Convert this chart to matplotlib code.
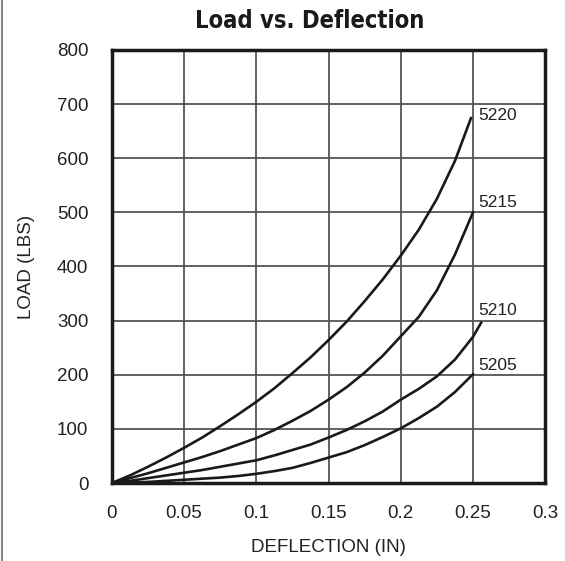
import matplotlib
matplotlib.use("Agg")
import matplotlib.pyplot as plt
from matplotlib import font_manager
from matplotlib.lines import Line2D

# Deflection (in) / load (lbs) points
defl = [0, 0.0125, 0.025, 0.0375, 0.05, 0.0625, 0.075, 0.0875, 0.1, 0.1125, 0.125,
        0.1375, 0.15, 0.1625, 0.175, 0.1875, 0.2, 0.2125, 0.225, 0.2375, 0.25]

load_5220 = [0, 14, 30, 47, 65, 84, 105, 127, 150, 175, 203,
             232, 264, 298, 336, 376, 420, 468, 525, 595, 670]
load_5215 = [0, 9, 18, 28, 38, 48, 59, 71, 83, 98, 115,
             133, 154, 177, 204, 235, 271, 307, 356, 422, 500]
load_5210 = [0, 4, 9, 14, 19, 24, 30, 36, 42, 51, 61,
             71, 84, 98, 114, 132, 154, 174, 197, 228, 270]
load_5205 = [0, 1, 2, 4, 6, 8, 10, 13, 17, 22, 28,
             37, 47, 57, 70, 85, 101, 120, 141, 168, 201]

# a couple of end points that sit off the 0.0125 grid
end_5220 = (0.2486, 674)
end_5210 = (0.2556, 296)

labels = ["5220", "5215", "5210", "5205"]
label_y = [678, 518, 318, 218]

xticks = [0, 0.05, 0.1, 0.15, 0.2, 0.25, 0.3]
xticklabels = ["0", "0.05", "0.1", "0.15", "0.2", "0.25", "0.3"]
yticks = [0, 100, 200, 300, 400, 500, 600, 700, 800]

plt.rcParams['font.family'] = ['Liberation Sans', 'DejaVu Sans']

# condensed face for the title, if any is installed
cond = [f for f in font_manager.fontManager.ttflist
        if 'Narrow' in f.name or 'Condensed' in f.name or f.stretch in ('condensed', 'semi-condensed')]
if cond:
    title_font = dict(family=[cond[0].name, 'DejaVu Sans'], stretch=cond[0].stretch, fontsize=17)
else:
    title_font = dict(family=['Liberation Sans', 'DejaVu Sans'], fontsize=14)

fig = plt.figure(figsize=(5.65, 5.61), dpi=100)
ax = fig.add_axes([0.198, 0.139, 0.767, 0.772])

x20 = defl[:-1] + [end_5220[0]]
y20 = load_5220[:-1] + [end_5220[1]]
x10 = defl + [end_5210[0]]
y10 = load_5210 + [end_5210[1]]
for xs, ys in [(x20, y20), (defl, load_5215), (x10, y10), (defl, load_5205)]:
    ax.plot(xs, ys, color='#1a1a1a', linewidth=1.9, zorder=3, solid_joinstyle='round')

for lab, y in zip(labels, label_y):
    ax.text(0.2535, y, lab, fontsize=12.5, color='#222222', ha='left', va='center')

ax.set_xlim(0, 0.3)
ax.set_ylim(0, 800)
ax.set_xticks(xticks)
ax.set_xticklabels(xticklabels)
ax.set_yticks(yticks)
ax.tick_params(length=0, labelsize=13.5, colors='#222222')
ax.tick_params(axis='x', pad=16)
ax.tick_params(axis='y', pad=17)
ax.grid(True, color='#555555', linewidth=1.3)
ax.set_axisbelow(True)
for s in ax.spines.values():
    s.set_linewidth(2.5)
    s.set_color('#1a1a1a')

ax.set_xlabel("DEFLECTION (IN)", fontsize=13.5, color='#222222', labelpad=12)
ax.set_ylabel("LOAD (LBS)", fontsize=13.5, color='#222222', labelpad=16)
fig.text(0.548, 0.962, "Load vs. Deflection", ha='center', va='center',
         fontweight='bold', color='#1a1a1a', **title_font)

# thin border on the left edge
fig.add_artist(Line2D([0.004, 0.004], [0, 1], transform=fig.transFigure, color='#888888', linewidth=1.5))

fig.savefig("out.png", dpi=100)
